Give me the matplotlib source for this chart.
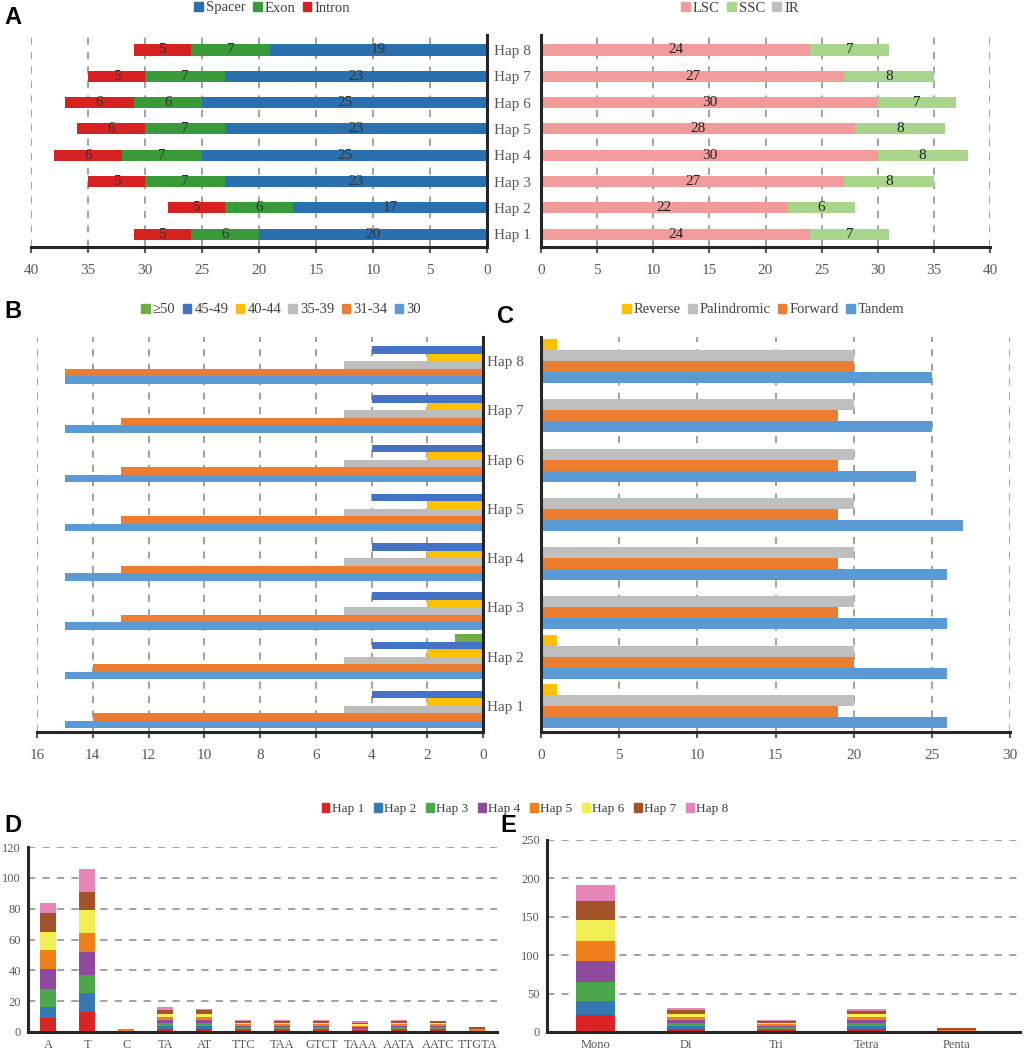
import numpy as np
import matplotlib
matplotlib.use('Agg')
import matplotlib.pyplot as plt
from matplotlib.patches import Patch

plt.rcParams['font.family'] = ['Liberation Serif', 'DejaVu Serif']

haps = ['Hap 1', 'Hap 2', 'Hap 3', 'Hap 4', 'Hap 5', 'Hap 6', 'Hap 7', 'Hap 8']

# panel A - left (gene region)
spacer = [20, 17, 23, 25, 23, 25, 23, 19]
exon = [6, 6, 7, 7, 7, 6, 7, 7]
intron = [5, 5, 5, 6, 6, 6, 5, 5]
# panel A - right (plastome region)
lsc = [24, 22, 27, 30, 28, 30, 27, 24]
ssc = [7, 6, 8, 8, 8, 7, 8, 7]
ir = [0, 0, 0, 0, 0, 0, 0, 0]

# panel B - repeat length classes
len_labels = ['30', '31-34', '35-39', '40-44', '45-49', '≥50']
len_30 = [15, 15, 15, 15, 15, 15, 15, 15]
len_31_34 = [14, 14, 13, 13, 13, 13, 13, 15]
len_35_39 = [5, 5, 5, 5, 5, 5, 5, 5]
len_40_44 = [2, 2, 2, 2, 2, 2, 2, 2]
len_45_49 = [4, 4, 4, 4, 4, 4, 4, 4]
len_50 = [0, 1, 0, 0, 0, 0, 0, 0]

# panel C - repeat types
rep_labels = ['Tandem', 'Forward', 'Palindromic', 'Reverse']
tandem = [26, 26, 26, 26, 27, 24, 25, 25]
forward = [19, 20, 19, 19, 19, 19, 19, 20]
palindromic = [20, 20, 20, 20, 20, 20, 20, 20]
reverse = [1, 1, 0, 0, 0, 0, 0, 1]

# panel D - SSR motifs, rows = Hap 1..8
motifs = ['A', 'T', 'C', 'TA', 'AT', 'TTC', 'TAA', 'GTCT', 'TAAA', 'AATA', 'AATC', 'TTGTA']
ssr_motif = [
    [9, 13, 0, 2, 2, 1, 1, 1, 1, 1, 1, 0],
    [7, 12, 0, 2, 2, 1, 1, 1, 0, 1, 1, 0],
    [12, 12, 0, 2, 2, 1, 1, 1, 1, 1, 1, 0],
    [13, 15, 0, 2, 2, 1, 1, 1, 1, 1, 1, 0],
    [12, 12, 2, 2, 2, 1, 1, 1, 1, 1, 1, 2],
    [12, 15, 0, 2, 2, 1, 1, 1, 1, 1, 1, 0],
    [12, 12, 0, 2, 2, 1, 1, 1, 1, 1, 1, 1],
    [7, 15, 0, 2, 1, 1, 1, 1, 1, 1, 0, 0],
]

# panel E - SSR types, rows = Hap 1..8
ssr_types = ['Mono', 'Di', 'Tri', 'Tetra', 'Penta']
ssr_type = [
    [22, 4, 2, 4, 0],
    [19, 4, 2, 4, 0],
    [24, 4, 2, 4, 0],
    [28, 4, 2, 4, 0],
    [26, 4, 2, 4, 3],
    [27, 4, 2, 4, 0],
    [24, 4, 2, 3, 2],
    [22, 3, 2, 3, 0],
]

hap_colors = ['#dc2424', '#3478b4', '#4aa84a', '#8e4a9c', '#f0801c', '#f0ee52', '#a3522a', '#e585b8']

W, H = 1024, 1053
fig = plt.figure(figsize=(W / 100, H / 100), dpi=100)

TXT = '#404040'
TICK = '#595959'
SPINE = '#262626'
GRID = dict(color='#9a9a9a', linestyle=(0, (4, 4)), linewidth=1.3, zorder=0)


def px_axes(x0, y0, x1, y1):
    return fig.add_axes([x0 / W, 1 - y1 / H, (x1 - x0) / W, (y1 - y0) / H])


def style(ax, visible):
    for s in ['left', 'right', 'top', 'bottom']:
        ax.spines[s].set_visible(s in visible)
        ax.spines[s].set_color(SPINE)
        ax.spines[s].set_linewidth(2.2)
    ax.tick_params(colors=TICK, labelsize=11, width=1.5, length=4)


def legend_at(handles, labels, xc, yc, fs=10.5, cs=0.5):
    fig.legend(handles, labels, loc='center', bbox_to_anchor=(xc / W, 1 - yc / H),
               ncol=len(labels), frameon=False, fontsize=fs,
               handlelength=0.6, handleheight=0.6, handletextpad=0.2,
               columnspacing=cs, labelcolor=TXT)


y = np.arange(8)

# ---------------- A left
ax = px_axes(31, 35, 487, 247)
h = 0.42
left = np.zeros(8)
for vals, col in [(spacer, '#2a70ae'), (exon, '#3a9a3a'), (intron, '#d82222')]:
    v = np.array(vals)
    ax.barh(y, v, left=left, height=h, color=col, zorder=2)
    for yi, (l, vi) in enumerate(zip(left, v)):
        ax.text(l + vi / 2, yi, str(vi), ha='center', va='center', fontsize=11, color='#333333', zorder=3)
    left += v
ax.set_xlim(40, 0)
ax.set_ylim(-0.49, 7.57)
ax.set_xticks(np.arange(0, 41, 5))
ax.set_yticks([])
for gx in np.arange(5, 41, 5):
    ax.axvline(gx, **GRID)
style(ax, ['bottom', 'right'])
ax.tick_params(axis='x', pad=8)
legend_at([Patch(color=c) for c in ['#2a70ae', '#3a9a3a', '#d82222']],
          ['Spacer', 'Exon', 'Intron'], 272, 8)

# ---------------- A right
ax = px_axes(541, 35, 990, 247)
left = np.zeros(8)
for vals, col in [(lsc, '#f29b9b'), (ssc, '#a8d48c'), (ir, '#bfbfbf')]:
    v = np.array(vals)
    ax.barh(y, v, left=left, height=h, color=col, zorder=2)
    for yi, (l, vi) in enumerate(zip(left, v)):
        if vi > 0:
            ax.text(l + vi / 2, yi, str(vi), ha='center', va='center', fontsize=11, color='#222222', zorder=3)
    left += v
ax.set_xlim(0, 40)
ax.set_ylim(-0.49, 7.57)
ax.set_xticks(np.arange(0, 41, 5))
ax.set_yticks(y)
ax.set_yticklabels(haps)
for gx in np.arange(5, 41, 5):
    ax.axvline(gx, **GRID)
style(ax, ['bottom', 'left'])
ax.tick_params(axis='y', length=0, pad=7, labelsize=11)
ax.tick_params(axis='x', pad=8)
legend_at([Patch(color=c) for c in ['#f29b9b', '#a8d48c', '#bfbfbf']],
          ['LSC', 'SSC', 'IR'], 740, 8)

# ---------------- B
ax = px_axes(37, 337, 483, 732)
b_series = [len_30, len_31_34, len_35_39, len_40_44, len_45_49, len_50]
b_colors = ['#5b9bd5', '#ed7d31', '#bdbdbd', '#ffc000', '#4472c4', '#70ad47']
bh = 0.152
for k, (vals, col) in enumerate(zip(b_series, b_colors)):
    ax.barh(y + (k - 2.5) * bh, vals, height=bh, color=col, zorder=2)
ax.set_xlim(16, 0)
ax.set_ylim(-0.53, 7.49)
ax.set_xticks(np.arange(0, 17, 2))
ax.set_yticks([])
for gx in np.arange(2, 17, 2):
    ax.axvline(gx, **GRID)
style(ax, ['bottom', 'right'])
ax.tick_params(axis='x', pad=8)
order = [5, 4, 3, 2, 1, 0]
legend_at([Patch(color=b_colors[i]) for i in order], [len_labels[i] for i in order], 281, 310)

# ---------------- C
ax = px_axes(541, 337, 1010, 732)
c_series = [tandem, forward, palindromic, reverse]
c_colors = ['#5b9bd5', '#ed7d31', '#bfbfbf', '#ffc000']
ch = 0.223
for k, (vals, col) in enumerate(zip(c_series, c_colors)):
    ax.barh(y + (k - 1.5) * ch, vals, height=ch, color=col, zorder=2)
ax.set_xlim(0, 30)
ax.set_ylim(-0.53, 7.49)
ax.set_xticks(np.arange(0, 31, 5))
ax.set_yticks(y)
ax.set_yticklabels(haps)
for gx in np.arange(5, 31, 5):
    ax.axvline(gx, **GRID)
style(ax, ['bottom', 'left'])
ax.tick_params(axis='y', length=0, pad=12, labelsize=11)
ax.tick_params(axis='x', pad=8)
order = [3, 2, 1, 0]
legend_at([Patch(color=c_colors[i]) for i in order], [rep_labels[i] for i in order], 763, 310)

# ---------------- D
ax = px_axes(28, 847, 497, 1032)
bottom = np.zeros(len(motifs))
x = np.arange(len(motifs))
for row, col in zip(ssr_motif, hap_colors):
    v = np.array(row)
    ax.bar(x, v, bottom=bottom, width=0.41, color=col, zorder=2)
    bottom += v
ax.set_xlim(-0.52, 11.5)
ax.set_ylim(0, 120)
ax.set_yticks(np.arange(0, 121, 20))
ax.set_xticks(x)
ax.set_xticklabels(motifs)
for gy in np.arange(20, 121, 20):
    ax.axhline(gy, **GRID)
style(ax, ['bottom', 'left'])
ax.tick_params(labelsize=9, length=0, pad=5)
legend_at([Patch(color=c) for c in hap_colors], haps, 525, 809, fs=9.5, cs=0.7)

# ---------------- E
ax = px_axes(547, 840, 1020, 1032)
bottom = np.zeros(len(ssr_types))
x = np.arange(len(ssr_types))
for row, col in zip(ssr_type, hap_colors):
    v = np.array(row)
    ax.bar(x, v, bottom=bottom, width=0.43, color=col, zorder=2)
    bottom += v
ax.set_xlim(-0.54, 4.7)
ax.set_ylim(0, 250)
ax.set_yticks(np.arange(0, 251, 50))
ax.set_xticks(x)
ax.set_xticklabels(ssr_types)
for gy in np.arange(50, 251, 50):
    ax.axhline(gy, **GRID)
style(ax, ['bottom', 'left'])
ax.tick_params(labelsize=9, length=0, pad=5)

# panel letters
for lab, (lx, ly) in {'A': (4, 18), 'B': (4, 312), 'C': (497, 316), 'D': (4, 826), 'E': (500, 826)}.items():
    fig.text(lx / W, 1 - ly / H, lab, fontsize=17, fontweight='bold', family='Liberation Sans',
             ha='left', va='center', color='black')

fig.savefig('out.png', dpi=100)
